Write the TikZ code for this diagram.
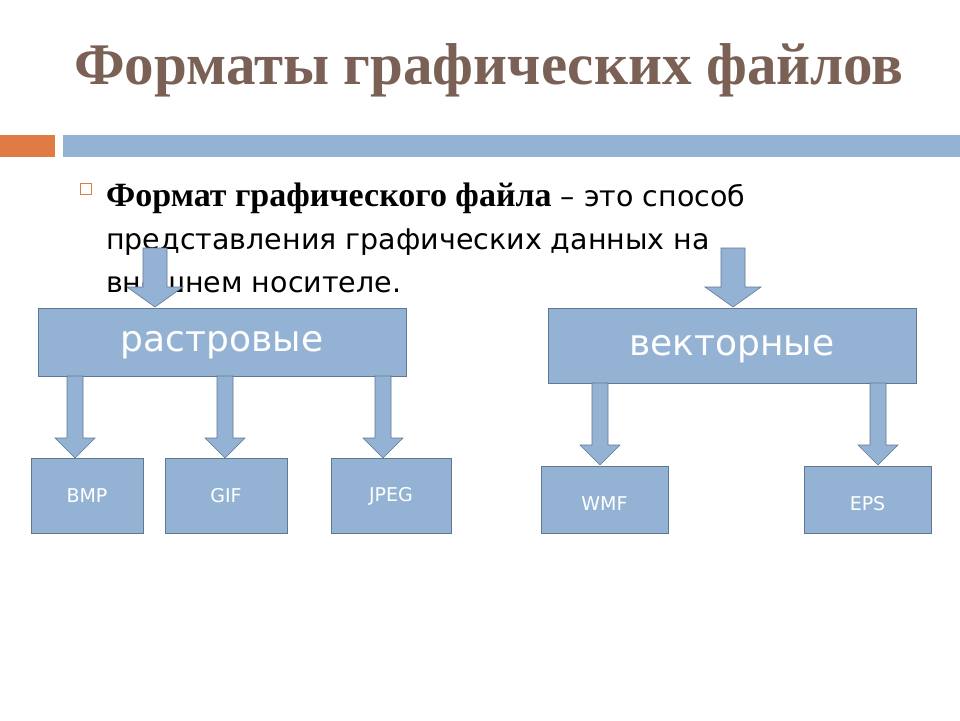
\documentclass[tikz,border=0pt]{standalone}
\usepackage{fontspec}
\setmainfont{Liberation Serif}
\setsansfont{DejaVu Sans}
\usetikzlibrary{positioning,calc}
\definecolor{boxblue}{HTML}{94B3D4}
\definecolor{boxline}{HTML}{5F7893}
\definecolor{titlebrown}{HTML}{7A6055}
\definecolor{barorange}{HTML}{E07B45}
\newcommand{\blockarrow}[3]{% from coordinate #1 to #2, shaft half width #3
  \draw[boxline,fill=boxblue,line width=0.6pt]
    ($(#1)+(-#3,0)$) -- ($(#2)+(-#3,-20)$) -- ($(#2)+(-2*#3-4,-20)$) -- (#2)
    -- ($(#2)+(2*#3+4,-20)$) -- ($(#2)+(#3,-20)$) -- ($(#1)+(#3,0)$) -- cycle;}
\begin{document}
\begin{tikzpicture}[x=1pt,y=-1pt]
	\tikzstyle{bigbox}=[draw=boxline,fill=boxblue,line width=0.6pt]
	\tikzstyle{smallbox}=[draw=boxline,fill=boxblue,line width=0.6pt]
	\useasboundingbox (0,0) rectangle (960,720);
	\fill[white] (0,0) rectangle (960,720);
		\node[font=\bfseries\fontsize{59}{62}\selectfont,text=titlebrown] (title) at (489,70) {Форматы графических файлов};
		\fill[barorange] (0,135) rectangle (55,157);
		\fill[boxblue] (63,135) rectangle (960,157);
		\draw[barorange,line width=1pt] (80,183) rectangle (91,194);
		\node[anchor=west,align=left,font=\sffamily\fontsize{28.5}{43}\selectfont,inner sep=0pt] (def) at (106,238)
			{{\rmfamily\bfseries\fontsize{34}{43}\selectfont Формат графического файла} – это способ\\представления графических данных на\\внешнем носителе.};
		% main boxes
		\path[bigbox] (38,308) rectangle (406,376);
		\node[text=white,font=\sffamily\fontsize{36}{40}\selectfont] (rast) at (222,345) {растровые};
		\path[bigbox] (548,308) rectangle (916,383);
		\node[text=white,font=\sffamily\fontsize{36}{40}\selectfont] (vect) at (732,349) {векторные};
		\coordinate (a1) at (155,248); \coordinate (a1e) at (155,307);
		\coordinate (a2) at (733,248); \coordinate (a2e) at (733,307);
		\blockarrow{a1}{a1e}{12}
		\blockarrow{a2}{a2e}{12}
		% format boxes
		\foreach \name/\xa/\xb/\ya/\lbl in {bmp/31/143/458/BMP,gif/165/287/458/GIF,jpeg/331/451/458/JPEG,wmf/541/668/466/WMF,eps/804/931/466/EPS}{
			\path[smallbox] (\xa,\ya) rectangle (\xb,533);
			\node[text=white,font=\sffamily\fontsize{19}{21}\selectfont] (\name) at ({(\xa+\xb)/2},{\ya+38}) {\lbl};
		}
		\foreach \x/\ya/\yb in {75/376/458,225/376/458,383/376/458,600/383/465,878/383/465}{
			\coordinate (s) at (\x,\ya); \coordinate (e) at (\x,\yb);
			\blockarrow{s}{e}{8}
		}
\end{tikzpicture}
\end{document}
